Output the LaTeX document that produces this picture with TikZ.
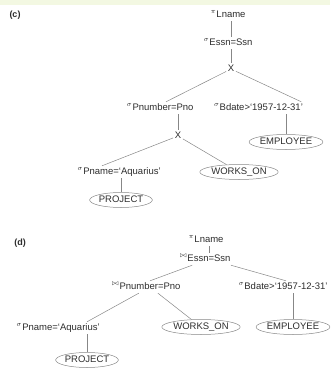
\documentclass[tikz,border=0pt]{standalone}
\usepackage{fontspec}
\setmainfont{Liberation Sans}
\usetikzlibrary{shapes.geometric}

\definecolor{bandgreen}{RGB}{243,248,226}
\definecolor{inkgray}{RGB}{45,45,45}
\definecolor{edgegray}{RGB}{135,135,135}

\tikzset{
  lbl/.style={font=\fontsize{9.5}{11}\selectfont, text=inkgray, inner sep=1.5pt,
    text height=7pt, text depth=2pt},
  opsym/.style={font=\scriptsize, text=inkgray, inner sep=0pt, xshift=1.2pt, yshift=3pt},
  selop/.style={lbl, label={[opsym]left:$\sigma$}},
  projop/.style={lbl, label={[opsym]left:$\pi$}},
  joinop/.style={lbl, label={[opsym]left:$\bowtie$}},
  rel/.style={lbl, ellipse, draw=edgegray, line width=0.5pt, inner sep=0pt,
    minimum height=15pt},
  tag/.style={font=\fontsize{9}{11}\selectfont\bfseries, text=inkgray},
  link/.style={draw=edgegray, line width=0.5pt}
}

\begin{document}
\begin{tikzpicture}[x=1pt, y=-1pt]
    % Picture frame
    \useasboundingbox (0,0) rectangle (330,370);
    \fill[bandgreen] (0,0) rectangle (330,5);

    % 1. Tree (c)
    \node[tag] (tagc) at (15,15) {(c)};
    \node[projop] (piC) at (231,15) {Lname};
    \node[selop] (essnC) at (231,43) {Essn=Ssn};
    \node[lbl] (xC1) at (231,69) {X};
    \node[selop] (pnumC) at (163,108) {Pnumber=Pno};
    \node[selop, anchor=west] (bdateC) at (218,108) {Bdate>`1957-12-31'};
    \node[lbl] (xC2) at (178,136) {X};
    \node[rel] (empC) at (286,142) {EMPLOYEE};
    \node[selop] (pnameC) at (122,172) {Pname=`Aquarius'};
    \node[rel] (worksC) at (239,172) {WORKS\_ON};
    \node[rel] (projC) at (121,200) {PROJECT};

    \draw[link] (piC) -- (essnC);
    \draw[link] (essnC) -- (xC1);
    \draw[link] (xC1) -- ([xshift=3pt]pnumC.north);
    \draw[link] (xC1) -- ([xshift=40pt]bdateC.north);
    \draw[link] (xC2 |- pnumC.south) -- (xC2);
    \draw[link] (empC |- bdateC.south) -- (empC);
    \draw[link] (xC2) -- ([xshift=-20pt]pnameC.north);
    \draw[link] (xC2) -- (worksC);
    \draw[link] (projC |- pnameC.south) -- (projC);

    % 2. Tree (d)
    \node[tag] (tagd) at (20,243) {(d)};
    \node[projop] (piD) at (209,240) {Lname};
    \node[joinop] (essnD) at (209,259) {Essn=Ssn};
    \node[joinop] (pnumD) at (150,287) {Pnumber=Pno};
    \node[selop] (bdateD) at (286,287) {Bdate>`1957-12-31'};
    \node[selop] (pnameD) at (61,328) {Pname=`Aquarius'};
    \node[rel] (worksD) at (201,327) {WORKS\_ON};
    \node[rel] (empD) at (293,327) {EMPLOYEE};
    \node[rel] (projD) at (87,360) {PROJECT};

    \draw[link] (piD) -- (essnD);
    \draw[link] (essnD) -- (pnumD.north);
    \draw[link] (essnD) -- (bdateD.north);
    \draw[link] (pnumD) -- (pnameD.north -| projD);
    \draw[link] (pnumD) -- (worksD);
    \draw[link] (bdateD.south -| empD) -- (empD);
    \draw[link] (pnameD.south -| projD) -- (projD);
\end{tikzpicture}
\end{document}
